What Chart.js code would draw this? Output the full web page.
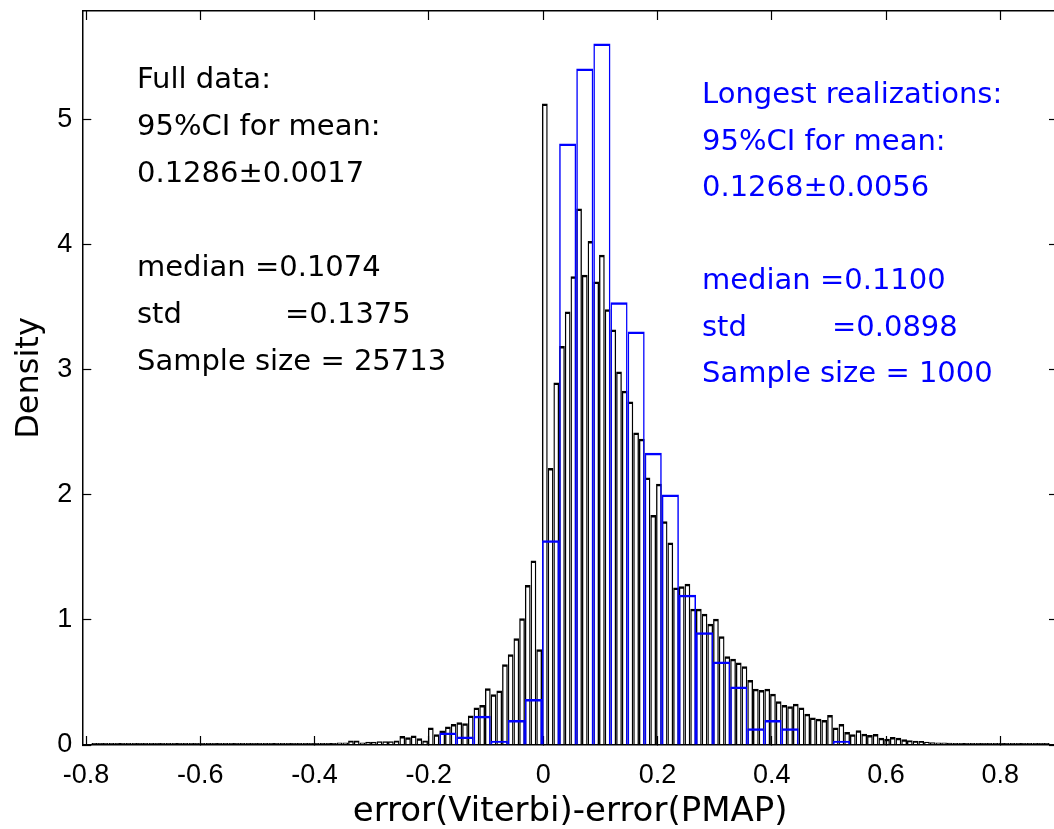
<!DOCTYPE html>
<html>
<head>
<meta charset="utf-8">
<script src="https://cdn.jsdelivr.net/npm/chart.js@4.4.1/dist/chart.umd.min.js"></script>
<style>
html,body{margin:0;padding:0;background:#fff;overflow:hidden;}
#wrap{width:1060px;height:829px;}
</style>
</head>
<body>
<div id="wrap"><canvas id="c" width="1060" height="829"></canvas></div>
<script>
// ---- axis ticks ----
const xTickValues = [-0.8, -0.6, -0.4, -0.2, 0, 0.2, 0.4, 0.6, 0.8];
const xTickLabels = ['-0.8', '-0.6', '-0.4', '-0.2', '0', '0.2', '0.4', '0.6', '0.8'];
const yTickValues = [0, 1, 2, 3, 4, 5];
const yTickLabels = ['0', '1', '2', '3', '4', '5'];
const xMin = -0.8065, xMax = 0.901;
const yMin = 0, yMax = 5.87;

// ---- full data histogram (bin width 0.00998, first bin left edge -0.79042) ----
const blackBinStart = -0.79042;
const blackBinWidth = 0.00998;
const blackDensity = [
  0.012, 0, 0, 0, 0, 0, 0, 0, 0, 0,
  0, 0, 0, 0, 0, 0, 0, 0, 0, 0,
  0.004, 0, 0.004, 0, 0.012, 0.004, 0.004, 0.016, 0.004, 0.012,
  0.004, 0.012, 0.004, 0.012, 0.004, 0.004, 0.012, 0.008, 0.004, 0.012,
  0.012, 0.012, 0.016, 0.02, 0.02, 0.035, 0.035, 0.02, 0.025, 0.025,
  0.03, 0.03, 0.03, 0.035, 0.072, 0.061, 0.075, 0.053, 0.035, 0.14,
  0.085, 0.115, 0.147, 0.168, 0.181, 0.173, 0.235, 0.299, 0.32, 0.453,
  0.405, 0.435, 0.645, 0.725, 0.853, 1.013, 1.28, 1.475, 0.765,
  5.13, 2.215, 2.90, 3.19, 3.467, 3.748, 4.29, 3.76, 4.03, 3.707,
  3.92, 3.484, 3.323, 2.987, 2.833, 2.747, 2.50, 2.45, 2.14, 1.84,
  2.09, 1.79, 1.62, 1.26, 1.27, 1.29, 1.09, 1.09, 1.05, 0.97,
  1.01, 0.87, 0.71, 0.69, 0.66, 0.63, 0.52, 0.45, 0.44, 0.45,
  0.41, 0.35, 0.32, 0.31, 0.33, 0.30, 0.25, 0.22, 0.21, 0.20,
  0.24, 0.14, 0.168, 0.103, 0.085, 0.117, 0.09, 0.08, 0.088, 0.058,
  0.05, 0.064, 0.058, 0.045, 0.038, 0.033, 0.032, 0.026, 0.021, 0.02,
  0.02, 0.017, 0.013, 0.013, 0.012, 0.013, 0.008, 0.008, 0.006, 0.008,
  0.004, 0.005, 0.004, 0.006, 0.002, 0.002, 0, 0.002, 0.004
];

// ---- longest realizations histogram (bin width 0.02994, first bin left edge -0.1816) ----
const blueBinStart = -0.1816;
const blueBinWidth = 0.02994;
const blueDensity = [
  0.100, 0.067, 0.234, 0.033, 0.200, 0.367, 1.637, 4.810, 5.411, 5.611,
  3.540, 3.307, 2.338, 2.004, 1.202, 0.902, 0.668, 0.468, 0.134, 0.200,
  0.134, 0, 0, 0.033
];

// ---- annotation texts ----
const fullDataText = [
  ['Full data:'],
  ['95%CI for mean:'],
  ['0.1286\u00B10.0017'],
  [],
  ['median =0.1074'],
  ['std', '=0.1375'],
  ['Sample size = 25713']
];
const longestText = [
  ['Longest realizations:'],
  ['95%CI for mean:'],
  ['0.1268\u00B10.0056'],
  [],
  ['median =0.1100'],
  ['std', '=0.0898'],
  ['Sample size = 1000']
];

const blackPoints = blackDensity.map((v, i) => ({ x: blackBinStart + (i + 0.5) * blackBinWidth, y: v }));
const bluePoints = blueDensity.map((v, i) => ({ x: blueBinStart + (i + 0.5) * blueBinWidth, y: v }));

const BLUE = '#0000ff';
const textFont = '"DejaVu Sans", sans-serif';
const tickFont = { family: 'Liberation Sans, Arial, sans-serif', size: 27 };

function fixTicks(values) {
  return scale => { scale.ticks = values.map(v => ({ value: v })); };
}
function fitTo(prop, size) {
  return s => {
    s[prop] = size;
    s.paddingTop = 0; s.paddingBottom = 0; s.paddingLeft = 0; s.paddingRight = 0;
  };
}

const annotationPlugin = {
  id: 'statText',
  afterDraw(chart) {
    const ctx = chart.ctx;
    ctx.save();
    ctx.font = '29px ' + textFont;
    ctx.textBaseline = 'alphabetic';
    ctx.textAlign = 'left';
    const drawBlock = (lines, x, y0, step, dx2, color) => {
      ctx.fillStyle = color;
      lines.forEach((parts, i) => {
        const y = y0 + i * step;
        if (parts.length >= 1) ctx.fillText(parts[0], x, y);
        if (parts.length >= 2) ctx.fillText(parts[1], x + dx2, y);
      });
    };
    drawBlock(fullDataText, 137, 88, 47, 148, '#000');
    drawBlock(longestText, 702, 103, 46.5, 130, BLUE);
    ctx.restore();
  }
};

const gridCommon = { drawOnChartArea: false, offset: false, tickLength: -9, color: '#000', tickWidth: 1.2 };
const borderCommon = { display: true, color: '#000', width: 1.5 };

new Chart(document.getElementById('c'), {
  type: 'bar',
  data: {
    datasets: [
      {
        label: 'Longest realizations',
        data: bluePoints,
        xAxisID: 'x2',
        yAxisID: 'y',
        backgroundColor: 'rgba(0,0,0,0)',
        borderColor: BLUE,
        borderWidth: { top: 2.5, left: 1.5, right: 1.5, bottom: 0 },
        barPercentage: 1,
        categoryPercentage: 1,
        grouped: false,
        inflateAmount: 0
      },
      {
        label: 'Full data',
        data: blackPoints,
        xAxisID: 'x',
        yAxisID: 'y',
        backgroundColor: 'rgba(0,0,0,0)',
        borderColor: '#000',
        borderWidth: { top: 2.5, left: 1.35, right: 1.35, bottom: 0 },
        barPercentage: 1,
        categoryPercentage: 1,
        minBarLength: 2,
        grouped: false,
        inflateAmount: 0
      }
    ]
  },
  options: {
    responsive: false,
    animation: false,
    events: [],
    layout: { padding: 0 },
    plugins: { legend: { display: false }, tooltip: { enabled: false } },
    scales: {
      x: {
        type: 'linear', position: 'bottom', min: xMin, max: xMax, offset: false,
        afterBuildTicks: fixTicks(xTickValues),
        afterFit: fitTo('height', 84),
        ticks: { font: tickFont, color: '#000', padding: 23, maxRotation: 0, minRotation: 0, autoSkip: false,
                 callback: (v, i) => xTickLabels[i] },
        grid: gridCommon,
        border: borderCommon,
        title: { display: true, text: 'error(Viterbi)-error(PMAP)', color: '#000',
                 font: { family: textFont, size: 34 }, padding: { top: 0, bottom: -4 } }
      },
      x2: {
        type: 'linear', position: 'top', min: xMin, max: xMax, offset: false,
        afterBuildTicks: fixTicks(xTickValues),
        afterFit: fitTo('height', 11),
        ticks: { display: false },
        grid: gridCommon,
        border: borderCommon
      },
      y: {
        type: 'linear', position: 'left', min: yMin, max: yMax,
        afterBuildTicks: fixTicks(yTickValues),
        afterFit: fitTo('width', 82.3),
        ticks: { font: tickFont, color: '#000', padding: 19, callback: (v, i) => yTickLabels[i] },
        grid: gridCommon,
        border: borderCommon,
        title: { display: true, text: 'Density', color: '#000',
                 font: { family: textFont, size: 32 }, padding: { top: 10, bottom: 0 } }
      },
      y2: {
        type: 'linear', position: 'right', min: yMin, max: yMax,
        afterBuildTicks: fixTicks(yTickValues),
        afterFit: fitTo('width', 2),
        ticks: { display: false },
        grid: gridCommon,
        border: borderCommon
      }
    }
  },
  plugins: [annotationPlugin]
});
</script>
</body>
</html>
